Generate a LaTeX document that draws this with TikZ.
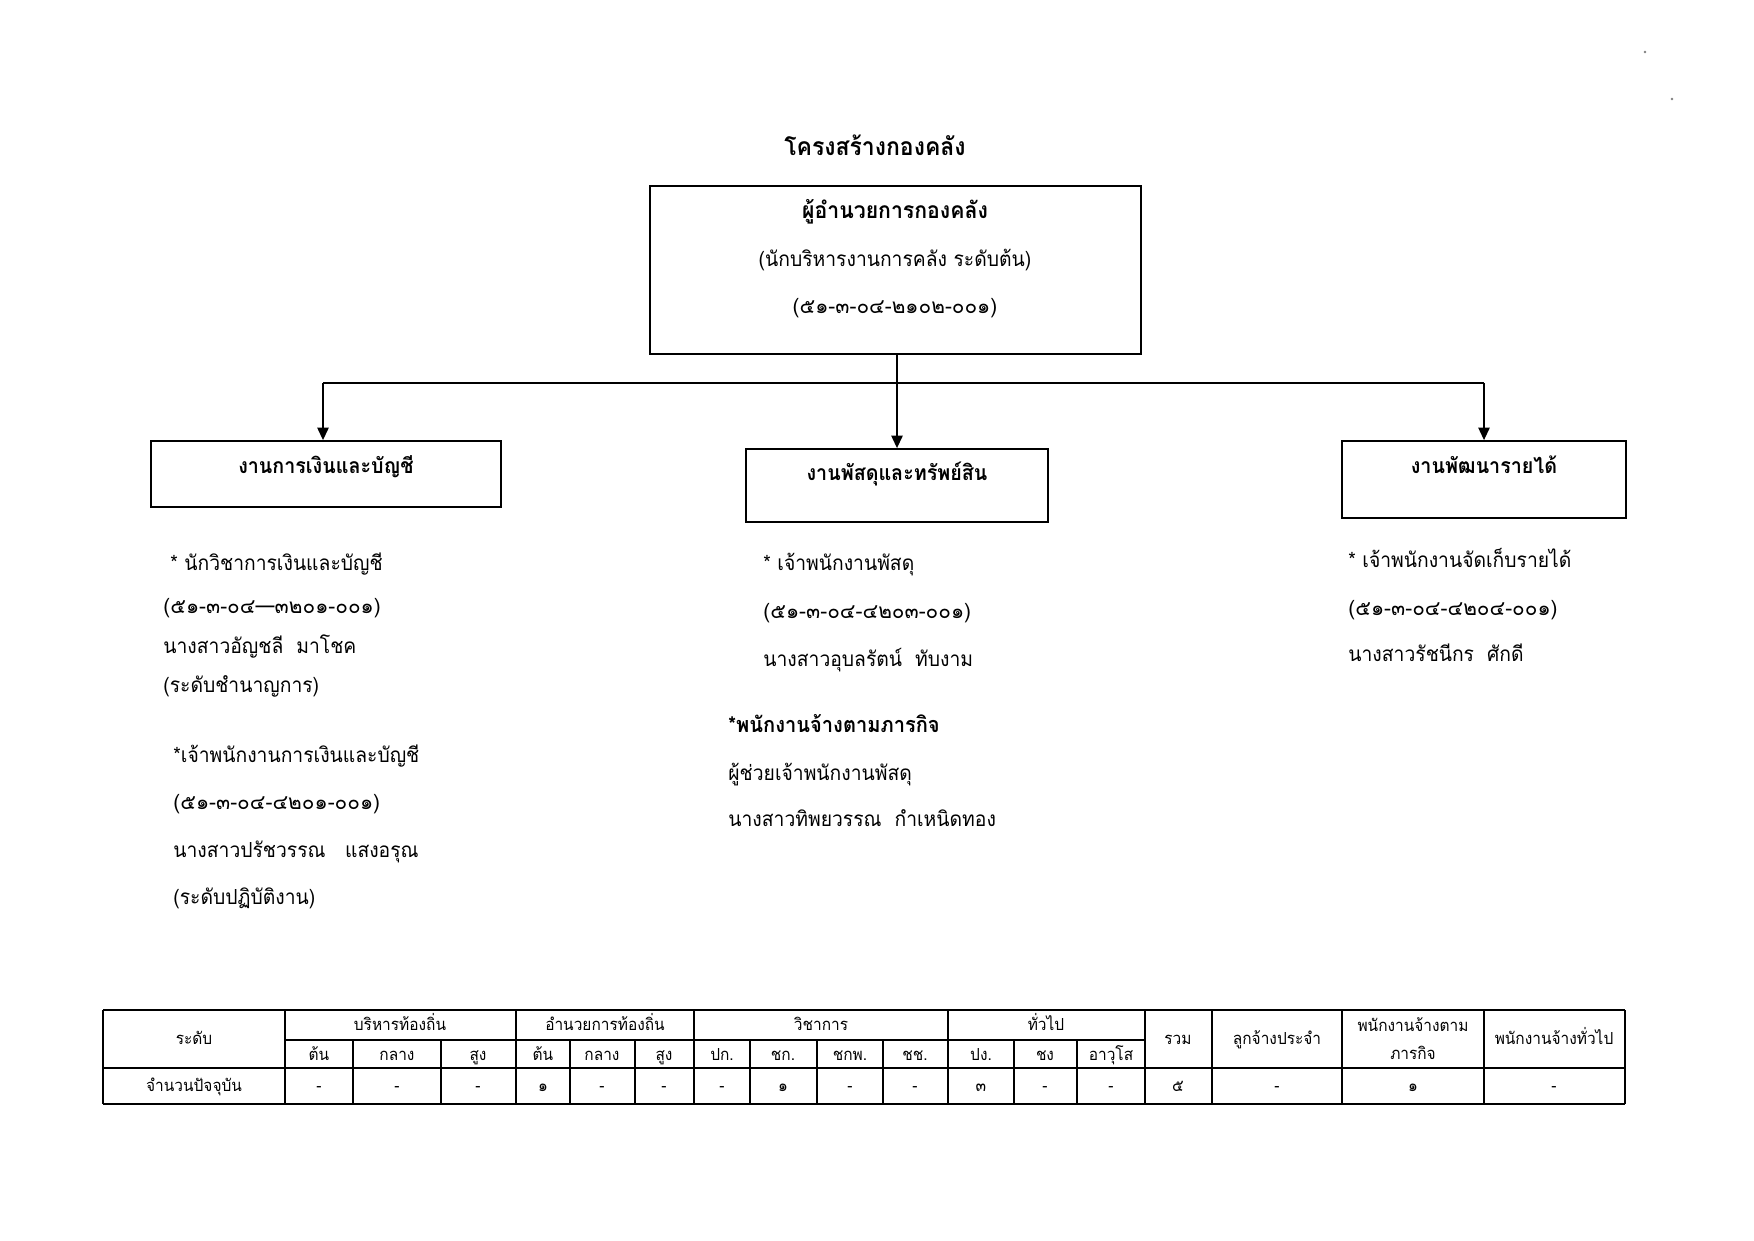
\documentclass[tikz,border=0pt]{standalone}
\usepackage{fontspec}
\setmainfont[Script=Thai,FakeStretch=0.93]{Loma}
\newfontfamily\numfont[Script=Thai]{Loma}
\usetikzlibrary{arrows.meta,fit}
\tikzset{
  box/.style={draw, line width=0.9pt, inner sep=0pt},
  conn/.style={line width=0.65pt},
  arr/.style={conn, -{Triangle[length=6pt,width=5.5pt]}},
  body/.style={anchor=mid west, inner sep=0pt, font=\fontsize{10}{12}\selectfont},
  numline/.style={anchor=mid west, inner sep=0pt, font=\numfont\fontsize{10}{12}\selectfont},
  ctr/.style={anchor=mid, inner sep=0pt, font=\fontsize{10}{12}\selectfont},
  hdr/.style={anchor=mid, inner sep=0pt, font=\bfseries\fontsize{10.2}{12}\selectfont},
  tline/.style={line width=0.7pt},
  tc/.style={anchor=mid, inner sep=0pt, font=\fontsize{8}{9}\selectfont},
}
\begin{document}
\begin{tikzpicture}[x=0.48175pt, y=-0.48175pt]
\useasboundingbox (0,0) rectangle (1754,1240);
\fill[white] (0,0) rectangle (1754,1240);

% title
\node[anchor=mid, inner sep=0pt, font=\bfseries\fontsize{11.9}{14}\selectfont] (title) at (875,150) {โครงสร้างกองคลัง};

% top box
\node[box, fit={(650,186) (1141,354)}] (top) {};
\node[hdr, font=\bfseries\fontsize{11}{13}\selectfont] (t1) at (895,213) {ผู้อำนวยการกองคลัง};
\node[ctr] (t2) at (895,261) {(นักบริหารงานการคลัง ระดับต้น)};
\node[ctr, font=\numfont\fontsize{10}{12}\selectfont] (t3) at (895,308) {(๕๑-๓-๐๔-๒๑๐๒-๐๐๑)};

% section boxes
\node[box, fit={(151,441) (501,507)}] (fin) {};
\node[hdr] at (326,468) {งานการเงินและบัญชี};
\node[box, fit={(746,449) (1048,522)}] (sup) {};
\node[hdr] at (897,475) {งานพัสดุและทรัพย์สิน};
\node[box, fit={(1342,441) (1626,518)}] (rev) {};
\node[hdr] at (1484,468) {งานพัฒนารายได้};

% connectors
\coordinate (bl) at (323,383);
\coordinate (br) at (1484,383);
\draw[conn] (bl) -- (br);
\draw[arr] (top.south -| sup.north) -- (sup.north);
\draw[arr] (bl) -- (fin.north -| bl);
\draw[arr] (br) -- (rev.north -| br);

% left column
\node[body] at (170,565) {* นักวิชาการเงินและบัญชี};
\node[numline] at (163,608) {(๕๑-๓-๐๔—๓๒๐๑-๐๐๑)};
\node[body] at (163,648) {นางสาวอัญชลี\ \ มาโชค};
\node[body] at (163,687) {(ระดับชำนาญการ)};
\node[body] at (173,757) {*เจ้าพนักงานการเงินและบัญชี};
\node[numline] at (173,804) {(๕๑-๓-๐๔-๔๒๐๑-๐๐๑)};
\node[body] at (173,852) {นางสาวปรัชวรรณ\ \ \ แสงอรุณ};
\node[body] at (173,899) {(ระดับปฏิบัติงาน)};

% middle column
\node[body] at (763,565) {* เจ้าพนักงานพัสดุ};
\node[numline] at (763,613) {(๕๑-๓-๐๔-๔๒๐๓-๐๐๑)};
\node[body] at (763,661) {นางสาวอุบลรัตน์\ \ ทับงาม};
\node[body, font=\bfseries\fontsize{10.4}{12}\selectfont] at (728,727) {*พนักงานจ้างตามภารกิจ};
\node[body] at (728,775) {ผู้ช่วยเจ้าพนักงานพัสดุ};
\node[body] at (728,821) {นางสาวทิพยวรรณ\ \ กำเหนิดทอง};

% right column
\node[body] at (1348,562) {* เจ้าพนักงานจัดเก็บรายได้};
\node[numline] at (1348,610) {(๕๑-๓-๐๔-๔๒๐๔-๐๐๑)};
\node[body] at (1348,656) {นางสาวรัชนีกร\ \ ศักดี};

% table
\draw[tline] (103,1010) -- (1625,1010);
\draw[tline] (285,1040) -- (1145,1040);
\draw[tline] (103,1068) -- (1625,1068);
\draw[tline] (103,1104) -- (1625,1104);
\foreach \x in {103,285,516,694,948,1145,1212,1342,1484,1625}
  \draw[tline] (\x,1010) -- (\x,1104);
\foreach \x in {353,441,570,635,750,817,883,1014,1077}
  \draw[tline] (\x,1040) -- (\x,1104);

\node[tc] at (194,1039) {ระดับ};
\node[tc] at (400,1025) {บริหารท้องถิ่น};
\node[tc] at (605,1025) {อำนวยการท้องถิ่น};
\node[tc] at (821,1025) {วิชาการ};
\node[tc] at (1046,1025) {ทั่วไป};
\node[tc] at (319,1055) {ต้น};
\node[tc] at (397,1055) {กลาง};
\node[tc] at (478,1055) {สูง};
\node[tc] at (543,1055) {ต้น};
\node[tc] at (602,1055) {กลาง};
\node[tc] at (664,1055) {สูง};
\node[tc] at (722,1055) {ปก.};
\node[tc] at (783,1055) {ชก.};
\node[tc] at (850,1055) {ชกพ.};
\node[tc] at (915,1055) {ชช.};
\node[tc] at (981,1055) {ปง.};
\node[tc] at (1045,1055) {ชง};
\node[tc] at (1111,1055) {อาวุโส};
\node[tc] at (1178,1039) {รวม};
\node[tc] at (1277,1039) {ลูกจ้างประจำ};
\node[tc] at (1413,1026) {พนักงานจ้างตาม};
\node[tc] at (1413,1054) {ภารกิจ};
\node[tc] at (1554,1039) {พนักงานจ้างทั่วไป};

\node[tc] at (194,1086) {จำนวนปัจจุบัน};
\foreach \x/\t in {319/-,397/-,478/-,543/๑,602/-,664/-,722/-,783/๑,850/-,915/-,981/๓,1045/-,1111/-,1178/๕,1277/-,1413/๑,1554/-}
  \node[tc] at (\x,1086) {\t};

% scan specks
\fill[gray] (1645,52) circle (1.3);
\fill[gray] (1672,99) circle (1.3);
\end{tikzpicture}
\end{document}
